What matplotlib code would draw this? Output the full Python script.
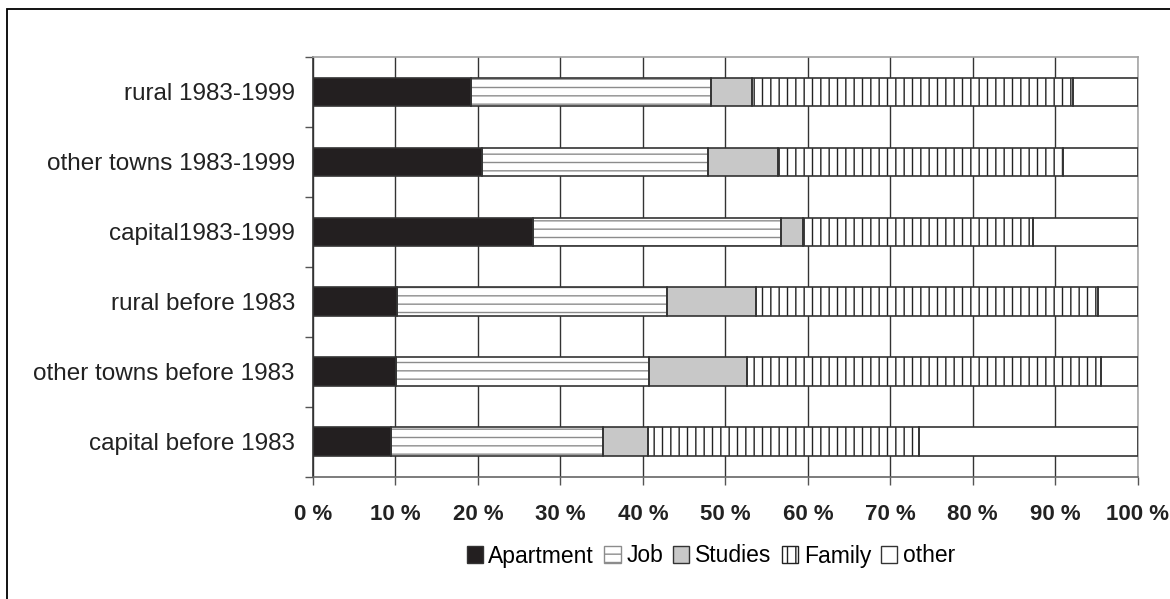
import matplotlib
matplotlib.use("Agg")
import matplotlib.pyplot as plt
from matplotlib.patches import Patch, Rectangle
import numpy as np

plt.rcParams['font.family'] = ['Liberation Sans', 'DejaVu Sans']
plt.rcParams['hatch.linewidth'] = 1.0

# categories from bottom to top
groups = ["capital before 1983", "other towns before 1983", "rural before 1983",
          "capital1983-1999", "other towns 1983-1999", "rural 1983-1999"]
reasons = ["Apartment", "Job", "Studies", "Family", "other"]

# shares in percent, one list per reason (same order as groups)
apartment = [9.5, 10.1, 10.2, 26.7, 20.5, 19.2]
job = [25.7, 30.6, 32.7, 30.0, 27.4, 29.0]
studies = [5.4, 11.9, 10.8, 2.7, 8.5, 5.0]
family = [32.9, 43.0, 41.5, 27.9, 34.6, 38.9]
other = [26.5, 4.4, 4.8, 12.7, 9.0, 7.9]

xticks = np.arange(0, 101, 10)
xlabels = [f"{v} %" for v in xticks]

# look of each segment: face, hatch, hatch colour
styles = {
    "Apartment": ("#231f20", "", None),
    "Job": ("white", "--", "#8c8c8c"),
    "Studies": ("#c8c8c8", "", None),
    "Family": ("white", "||", "#222222"),
    "other": ("white", "", None),
}
edge = "#333333"

fig = plt.figure(figsize=(11.7, 5.99), dpi=100)
ax = fig.add_axes([313 / 1170, 1 - 476.7 / 599, (1137.7 - 313) / 1170, (476.7 - 57) / 599])

# frame around the whole chart (right and bottom cut off in the original)
fig.patches.append(Rectangle((7 / 1170, -0.1), 1.1, 1 - 9 / 599 + 0.1,
                             transform=fig.transFigure, fill=False,
                             edgecolor="black", linewidth=1.3))

y = np.arange(len(groups))
h = 0.41
left = np.zeros(len(groups))
series = [apartment, job, studies, family, other]
for name, vals in zip(reasons, series):
    vals = np.array(vals)
    face, hatch, hcol = styles[name]
    if hatch:
        ax.barh(y, vals, h, left=left, color=face, edgecolor=hcol,
                hatch=hatch, linewidth=0, zorder=2)
    else:
        ax.barh(y, vals, h, left=left, color=face, linewidth=0, zorder=2)
    ax.barh(y, vals, h, left=left, fill=False, edgecolor=edge,
            linewidth=1.2, zorder=3)
    left += vals

ax.set_xlim(0, 100)
ax.set_ylim(-0.5, len(groups) - 0.5)

ax.set_xticks(xticks)
ax.set_xticklabels(xlabels, fontsize=16, fontweight="bold", color="#222222")
ax.tick_params(axis="x", direction="out", length=6, width=1, color="#555555", pad=14)

ax.set_yticks(np.arange(len(groups) + 1) - 0.5)
ax.set_yticklabels([])
ax.set_yticks(y, minor=True)
ax.set_yticklabels(groups, minor=True, fontsize=17.5, color="#222222")
ax.tick_params(axis="y", which="major", direction="out", length=6, width=1, color="#555555")
ax.tick_params(axis="y", which="minor", length=0, pad=13)

ax.grid(axis="x", color="#333333", linewidth=1.0, zorder=0)
ax.set_axisbelow(True)

ax.spines["left"].set_color("#333333")
ax.spines["bottom"].set_color("#666666")
ax.spines["top"].set_color("#a0a0a0")
ax.spines["right"].set_color("#a8a8a8")
for s in ax.spines.values():
    s.set_linewidth(1.2)

handles = []
for name in reasons:
    face, hatch, hcol = styles[name]
    handles.append(Patch(facecolor=face, edgecolor=edge if not hatch else hcol,
                         hatch=hatch, linewidth=1.0))
fig.legend(handles, reasons, loc="center", bbox_to_anchor=(711 / 1170, 1 - 556 / 599),
           ncol=5, frameon=False, fontsize=16.5, handlelength=0.7, handleheight=0.7,
           handletextpad=0.25, columnspacing=0.45, borderpad=0)

fig.savefig("out.png", dpi=100)
